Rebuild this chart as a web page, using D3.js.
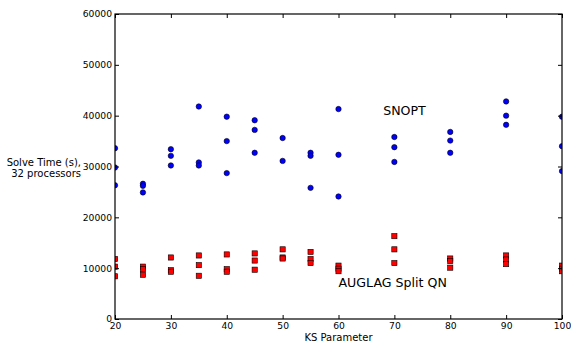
<!DOCTYPE html>
<html>
<head>
<meta charset="utf-8">
<script src="https://cdn.jsdelivr.net/npm/d3@7"></script>
<style>
  body { margin: 0; background: #fff; }
  svg { display: block; font-family: "DejaVu Sans", sans-serif; }
</style>
</head>
<body>
<div id="chart"></div>
<script>
// KS parameter values and solve times (s)
const ksParam = [20, 25, 30, 35, 40, 45, 50, 55, 60, 70, 80, 90, 100];
const snoptTimes = [
  [33600, 29800, 26300],
  [26600, 26200, 24900],
  [33400, 32100, 30200],
  [41800, 30800, 30200],
  [39800, 35000, 28700],
  [39100, 37200, 32700],
  [35600, 31100],
  [32700, 32100, 25800],
  [41300, 32300, 24100],
  [35800, 33800, 30900],
  [36800, 35100, 32700],
  [42800, 40000, 38200],
  [39800, 34000, 29100]
];
const auglagTimes = [
  [11800, 10300, 8400],
  [10300, 9800, 8700],
  [12100, 9600, 9300],
  [12500, 10600, 8500],
  [12700, 9800, 9300],
  [12900, 11500, 9700],
  [13700, 12100, 11900],
  [13200, 11800, 11000],
  [10500, 9900, 9400],
  [16300, 13700, 11000],
  [11900, 11400, 10100],
  [12500, 11700, 10800],
  [10500, 9900, 9400]
];
const xTicks = [20, 30, 40, 50, 60, 70, 80, 90, 100];
const yTicks = [0, 10000, 20000, 30000, 40000, 50000, 60000];

const width = 571, height = 345;
const margin = { top: 14, right: 9, bottom: 26, left: 115 };

const svg = d3.select('#chart').append('svg')
  .attr('width', width)
  .attr('height', height);

const x = d3.scaleLinear().domain([20, 100]).range([margin.left, width - margin.right]);
const y = d3.scaleLinear().domain([0, 60000]).range([height - margin.bottom, margin.top]);

svg.append('clipPath').attr('id', 'plot-clip')
  .append('rect')
  .attr('x', x(20)).attr('y', y(60000))
  .attr('width', x(100) - x(20)).attr('height', y(0) - y(60000));

const snoptPts = [];
const auglagPts = [];
ksParam.forEach((k, i) => {
  snoptTimes[i].forEach(t => snoptPts.push({ k, t }));
  auglagTimes[i].forEach(t => auglagPts.push({ k, t }));
});

const marks = svg.append('g').attr('clip-path', 'url(#plot-clip)');

const sq = 5.2;
marks.selectAll('.auglag')
  .data(auglagPts)
  .enter()
  .append('rect')
  .attr('class', 'auglag')
  .attr('x', d => x(d.k) - sq / 2)
  .attr('y', d => y(d.t) - sq / 2)
  .attr('width', sq)
  .attr('height', sq)
  .style('fill', '#ff0000')
  .style('stroke', '#000')
  .style('stroke-width', 0.6);

marks.selectAll('.snopt')
  .data(snoptPts)
  .enter()
  .append('circle')
  .attr('class', 'snopt')
  .attr('cx', d => x(d.k))
  .attr('cy', d => y(d.t))
  .attr('r', 2.7)
  .style('fill', '#0000ff')
  .style('stroke', '#000')
  .style('stroke-width', 0.6);

// axes, ticks pointing inward on all four sides
const fontSize = '9.2px';
const gx = svg.append('g')
  .attr('transform', `translate(0,${y(0)})`)
  .call(d3.axisBottom(x).tickValues(xTicks).tickFormat(d3.format('d'))
    .tickSizeInner(-4).tickSizeOuter(0).tickPadding(3));
const gy = svg.append('g')
  .attr('transform', `translate(${x(20)},0)`)
  .call(d3.axisLeft(y).tickValues(yTicks).tickFormat(d3.format('d'))
    .tickSizeInner(-4).tickSizeOuter(0).tickPadding(3));
const gt = svg.append('g')
  .attr('transform', `translate(0,${y(60000)})`)
  .call(d3.axisTop(x).tickValues(xTicks).tickFormat('')
    .tickSizeInner(-4).tickSizeOuter(0));
const gr = svg.append('g')
  .attr('transform', `translate(${x(100)},0)`)
  .call(d3.axisRight(y).tickValues(yTicks).tickFormat('')
    .tickSizeInner(-4).tickSizeOuter(0));

[gx, gy, gt, gr].forEach(g => {
  g.select('.domain').remove();
  g.selectAll('line').style('stroke', '#000').style('stroke-width', 1);
  g.selectAll('text')
    .style('font-family', '"DejaVu Sans", sans-serif')
    .style('font-size', fontSize)
    .style('fill', '#000');
});

svg.append('rect')
  .attr('x', x(20))
  .attr('y', y(60000))
  .attr('width', x(100) - x(20))
  .attr('height', y(0) - y(60000))
  .style('fill', 'none')
  .style('stroke', '#000')
  .style('stroke-width', 1.2);

// axis labels
svg.append('text')
  .attr('x', x(60))
  .attr('y', 341)
  .attr('text-anchor', 'middle')
  .style('font-size', '10px')
  .text('KS Parameter');

const ylab = svg.append('text')
  .attr('text-anchor', 'end')
  .style('font-size', '10px');
ylab.append('tspan').attr('x', 81).attr('y', 166).text('Solve Time (s),');
ylab.append('tspan').attr('x', 81).attr('y', 177).text('32 processors');

// series annotations
svg.append('text')
  .attr('x', x(68))
  .attr('y', y(40200))
  .style('font-size', '12.6px')
  .text('SNOPT');

svg.append('text')
  .attr('x', x(60))
  .attr('y', y(6300))
  .style('font-size', '12.6px')
  .text('AUGLAG Split QN');
</script>
</body>
</html>
